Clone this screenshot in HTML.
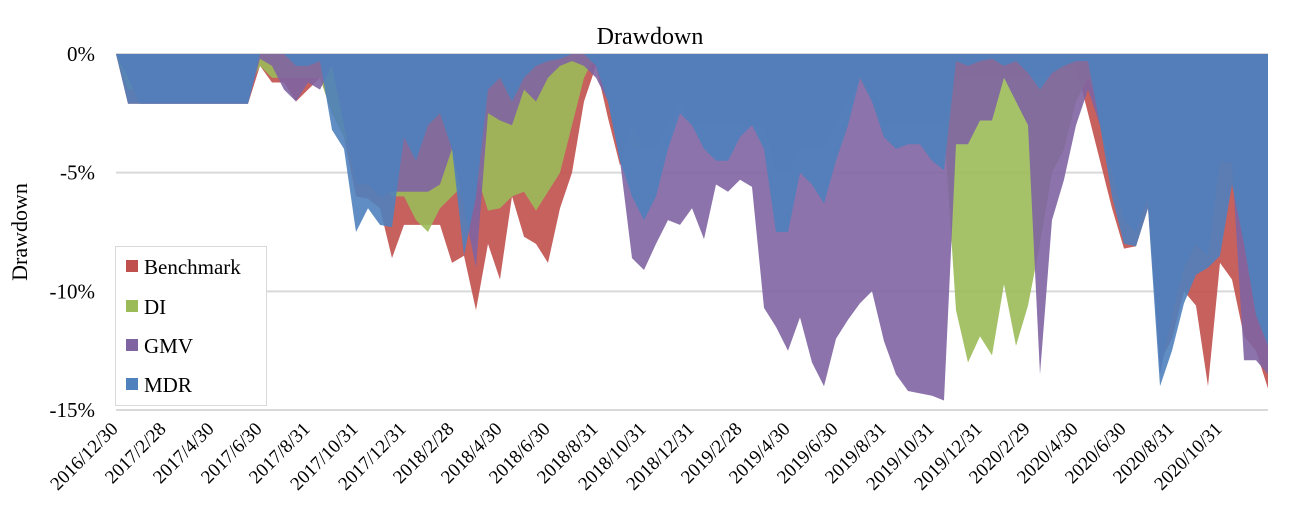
<!DOCTYPE html>
<html><head><meta charset="utf-8"><style>
html,body{margin:0;padding:0;background:#fff;}
svg{display:block;font-family:"Liberation Serif",serif;}
</style></head><body>
<svg id="chart" width="1300" height="528" viewBox="0 0 1300 528" xmlns="http://www.w3.org/2000/svg">
<text x="650" y="44" font-size="24" text-anchor="middle">Drawdown</text>
<text transform="translate(27,232) rotate(-90)" font-size="22" text-anchor="middle">Drawdown</text>
<g id="grid"></g><g id="areas"></g><g id="yt"></g><g id="xt"></g>
<g>
<rect x="115.5" y="246.5" width="151" height="159" fill="#fff" stroke="#d9d9d9"/>
<rect x="126" y="260" width="12" height="12" fill="#c0504d"/>
<text x="144" y="274" font-size="21">Benchmark</text>
<rect x="126" y="300" width="12" height="12" fill="#9bbb59"/>
<text x="144" y="314" font-size="21">DI</text>
<rect x="126" y="339" width="12" height="12" fill="#8064a2"/>
<text x="144" y="353" font-size="21">GMV</text>
<rect x="126" y="378" width="12" height="12" fill="#4f81bd"/>
<text x="144" y="392" font-size="21">MDR</text>
</g>
</svg>
<script>
const xLabels=["2016/12/30","2017/2/28","2017/4/30","2017/6/30","2017/8/31","2017/10/31","2017/12/31","2018/2/28","2018/4/30","2018/6/30","2018/8/31","2018/10/31","2018/12/31","2019/2/28","2019/4/30","2019/6/30","2019/8/31","2019/10/31","2019/12/31","2020/2/29","2020/4/30","2020/6/30","2020/8/31","2020/10/31"];
const yTicks=[0,-5,-10,-15];
const benchmark=[0,-2.1,-2.1,-2.1,-2.1,-2.1,-2.1,-2.1,-2.1,-2.1,-2.1,-2.1,-0.5,-1.2,-1.2,-2.0,-1.5,-1.0,-2.5,-3.5,-6.0,-6.1,-6.5,-8.6,-7.2,-7.2,-7.2,-7.2,-8.8,-8.5,-10.8,-8.0,-9.5,-6.0,-7.7,-8.0,-8.8,-6.5,-5.0,-2.0,-0.5,-2.7,-4.7,-3.0,-4,-4,-3,-2,-3,-3,-3,-3,-3,-3,-3,-5,-5,-4,-4,-4,-3,-2,-1,-2,-3,-3,-3,-3,-3,-3,-1,-1,-1,-1,-1,-1,-1,-1,-1,-0.5,-0.5,-2.5,-4.5,-6.5,-8.2,-8.1,-6.5,-13.0,-12.0,-10.0,-10.6,-14.0,-8.8,-9.5,-11.9,-12.5,-14.1];
const di=[0,-1.5,-1.5,-1.5,-1.5,-1.5,-1.5,-1.5,-1.5,-1.5,-1.5,-1.5,-0.5,-1,-1,-1,-1,-1,-2.5,-3.5,-4.5,-5,-5.5,-6,-6,-7.0,-7.5,-6.5,-6.0,-5.5,-5.0,-6.6,-6.5,-6.0,-5.8,-6.6,-5.8,-5.0,-3.0,-1.0,0,-1.5,-3,-4,-4,-4,-3,-2,-3,-3,-3,-3,-3,-3,-3,-4,-4,-4,-4,-4,-3,-2,-1,-2,-3,-3,-3,-3,-3,-3,-10.8,-13.0,-11.9,-12.7,-9.7,-12.3,-10.6,-8.0,-5.0,-4.0,-2.0,-1.0,-2,-4,-6,-6,-5,-9,-9,-7,-7,-7,-4,-4,-6,-8,-9];
const gmv=[0,-1.0,-2.1,-2.1,-2.1,-2.1,-2.1,-2.1,-2.1,-2.1,-2.1,-2.1,-0.2,-0.5,-1.5,-2.0,-1.2,-1.5,-0.5,-3,-5.5,-5.5,-6,-5.8,-5.8,-5.8,-5.8,-5.5,-4,-6.5,-9.0,-2.5,-2.8,-3,-1.5,-2,-1,-0.5,-0.3,-0.5,-1,-2,-4.5,-8.6,-9.1,-8.0,-7.0,-7.2,-6.5,-7.8,-5.5,-5.8,-5.3,-5.6,-10.7,-11.5,-12.5,-11.1,-13.0,-14.0,-12.0,-11.2,-10.5,-10.0,-12.1,-13.5,-14.2,-14.3,-14.4,-14.6,-3.8,-3.8,-2.8,-2.8,-1.0,-2.0,-3.0,-13.5,-7.0,-5.3,-3,-1.5,-3,-5,-7,-7.5,-6,-13.5,-11,-9,-8,-8.5,-4.5,-4.6,-12.9,-12.9,-13.5];
const mdr=[0,-2.1,-2.1,-2.1,-2.1,-2.1,-2.1,-2.1,-2.1,-2.1,-2.1,-2.1,0,0,0,-0.5,-0.5,-0.3,-3.2,-4.0,-7.5,-6.5,-7.2,-7.3,-3.5,-4.5,-3.0,-2.5,-4.0,-8.5,-6.0,-1.5,-1.0,-2.0,-1.0,-0.5,-0.3,-0.2,0,0,-0.5,-2.0,-4.5,-6.0,-7.0,-6.0,-4.0,-2.5,-3,-4,-4.5,-4.5,-3.5,-3,-4,-7.5,-7.5,-5.0,-5.5,-6.3,-4.5,-3,-1.0,-2,-3.5,-4.0,-3.8,-3.8,-4.5,-4.9,-0.3,-0.5,-0.3,-0.2,-0.5,-0.3,-0.8,-1.5,-0.8,-0.5,-0.3,-0.3,-3,-6.0,-8.0,-8.1,-6.5,-14.0,-12.5,-10.5,-9.3,-9.0,-8.5,-5.5,-8,-11,-12.3];
const series=[["benchmark",benchmark,"#c0504d"],["di",di,"#9bbb59"],["gmv",gmv,"#8064a2"],["mdr",mdr,"#4f81bd"]];
const NS="http://www.w3.org/2000/svg";
const X0=116,X1=1268,Y0=54,Y15=410;
const N=mdr.length;
function xs(i){return X0+(X1-X0)*i/(N-1);}
function ys(v){return Y0+(Y15-Y0)*(v/-15);}
const grid=document.getElementById('grid');
yTicks.forEach(t=>{
  const l=document.createElementNS(NS,'line');
  
  
  l.setAttribute('x1',X0);l.setAttribute('x2',X1);
  l.setAttribute('y1',ys(t));l.setAttribute('y2',ys(t));
  l.setAttribute('stroke','#d9d9d9');l.setAttribute('stroke-width','2');
  grid.appendChild(l);
  const tx=document.createElementNS(NS,'text');
  
  
  tx.setAttribute('x',95);tx.setAttribute('y',ys(t)+7);
  tx.setAttribute('text-anchor','end');tx.setAttribute('font-size','21');
  tx.textContent=t+'%';
  document.getElementById('yt').appendChild(tx);
});
const areas=document.getElementById('areas');
series.forEach(([name,vals,col])=>{
  let d='M'+xs(0)+','+ys(0);
  vals.forEach((v,i)=>{d+=' L'+xs(i).toFixed(1)+','+ys(v).toFixed(1);});
  d+=' L'+xs(N-1)+','+ys(0)+' Z';
  const p=document.createElementNS(NS,'path');
  
  
  p.setAttribute('d',d);p.setAttribute('fill',col);p.setAttribute('fill-opacity','0.9');
  areas.appendChild(p);
});
const xt=document.getElementById('xt');
xLabels.forEach((lab,k)=>{
  const i=k*4;
  const x=xs(i)+3,y=430;
  const t=document.createElementNS(NS,'text');
  
  
  t.setAttribute('transform','translate('+x+','+y+') rotate(-45)');
  t.setAttribute('text-anchor','end');t.setAttribute('font-size','19');
  t.textContent=lab;
  xt.appendChild(t);
});
</script>
</body></html>
